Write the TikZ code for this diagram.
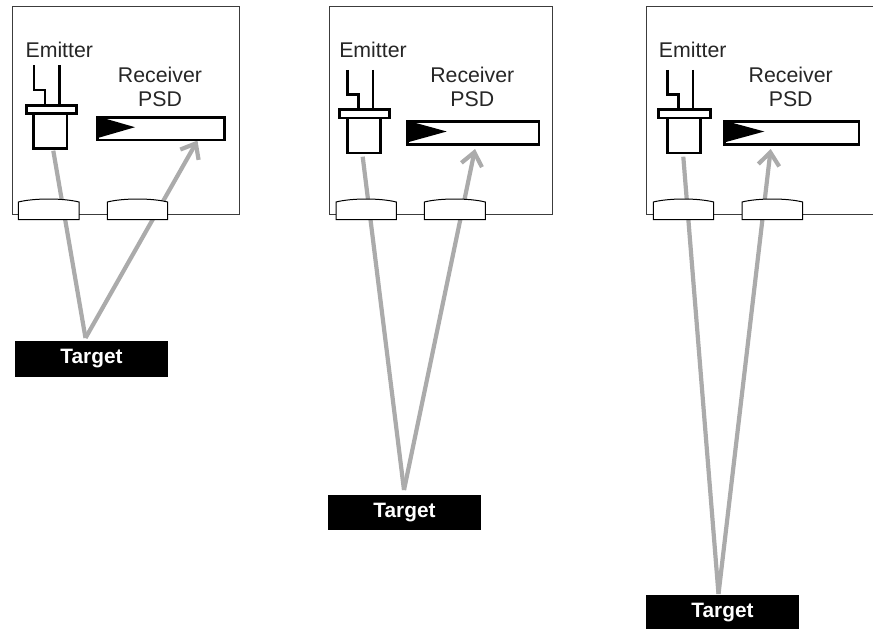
\documentclass[tikz,border=0pt]{standalone}
\usepackage{fontspec}
\setmainfont{Liberation Sans}
\usetikzlibrary{arrows.meta}
\definecolor{raygray}{HTML}{ABABAB}
\definecolor{framegray}{HTML}{3C3C3C}
\tikzset{
  frameline/.style={draw=framegray,line width=1pt},
  lens/.style={draw=black,fill=white,line width=1pt},
  part/.style={draw=black,fill=white,line width=2.8pt,line join=miter},
  lead/.style={draw=black,line width=2.8pt},
  ray/.style={draw=raygray,line width=4.2pt,line join=miter},
  rayarrow/.style={ray,-{Straight Barb[length=13pt,width=21pt,line width=4.2pt]}},
  lbl/.style={inner sep=0pt,anchor=base,font=\fontsize{21.3}{24}\selectfont,text=black!85},
  targetbox/.style={fill=black,text=white,inner sep=0pt,minimum width=153pt,minimum height=35.5pt,font=\fontsize{20.8}{24}\selectfont\bfseries},
}
% #1 name, #2 body left, #3 y offset, #4 flange left, #5 flange right
\newcommand{\emitterpart}[5]{
  \draw[lead] (#2+2.3,65.3+#3) -- (#2+2.3,90+#3) -| (#2+13.3,103.5+#3);
  \draw[lead] (#2+27.6,65.3+#3) -- (#2+27.6,103.5+#3);
  \node[part,inner sep=0pt,anchor=north west,minimum width=33.5pt,minimum height=34.9pt] (#1) at (#2+0.4,112+#3) {};
  \node[part,inner sep=0pt,anchor=north west,minimum width=#5pt-#4pt-1.4pt,minimum height=8.2pt] (#1f) at (#4+0.7,103.7+#3) {};
}
% #1 name, #2 left, #3 right, #4 top, #5 tip x
\newcommand{\receiverpart}[5]{
  \node[part,inner sep=0pt,anchor=north west,minimum width=#3pt-#2pt-1.4pt,minimum height=22.7pt] (#1) at (#2+0.7,#4+0.9) {};
  \fill[black] (#2+1,#4+1) -- (#5,#4+12.2) -- (#2+1,#4+23.5) -- cycle;
}
% #1 left, #2 right
\newcommand{\lenspart}[2]{
  \draw[lens] (#1,219.5) -- (#1,202) .. controls (#1+16,198) and (#2-16,198) .. (#2,202) -- (#2,219.5) -- cycle;
}
\begin{document}
\begin{tikzpicture}[x=1pt,y=-1pt]
\useasboundingbox (0,0) rectangle (873,629);
% frames
\draw[frameline] (12,6) rectangle (239.3,214.5);
\draw[frameline] (329.3,6) rectangle (552.7,214.5);
\draw[frameline] (873,6) -- (646,6) -- (646,214.5) -- (873,214.5);
% first panel
\coordinate (start1) at (53.3,150.7);
\coordinate (apex1) at (85.5,338);
\coordinate (tip1) at (197.5,140.5);
\draw[ray] (start1) -- (apex1);
\draw[rayarrow] (apex1) -- (tip1);
\lenspart{18.3}{79}
\lenspart{107.3}{167.7}
\emitterpart{em1}{31.7}{0}{24}{75.7}
\receiverpart{rc1}{95}{224}{115}{135}
\node[lbl] (emt1) at (59.3,57.3) {Emitter};
\node[lbl] (rct1) at (160,82.3) {Receiver};
\node[lbl] (psd1) at (160,106) {PSD};
\node[targetbox] (tg1) at (91.5,358.8) {\raisebox{-1pt}{Target}};
% second panel
\coordinate (start2) at (362.7,156.7);
\coordinate (apex2) at (404,490);
\coordinate (tip2) at (475,149);
\draw[ray] (start2) -- (apex2);
\draw[rayarrow] (apex2) -- (tip2);
\lenspart{336}{396.3}
\lenspart{424.3}{485.3}
\emitterpart{em2}{345.4}{4.6}{337.3}{389}
\receiverpart{rc2}{405}{538.3}{119.3}{446.7}
\node[lbl] (emt2) at (373,57.3) {Emitter};
\node[lbl] (rct2) at (472.3,82.3) {Receiver};
\node[lbl] (psd2) at (472.3,106) {PSD};
\node[targetbox] (tg2) at (404.5,512.7) {\raisebox{-1pt}{Target}};
% third panel
\coordinate (start3) at (683.3,156.7);
\coordinate (apex3) at (718.5,594);
\coordinate (tip3) at (770.7,149);
\draw[ray] (start3) -- (apex3);
\draw[rayarrow] (apex3) -- (tip3);
\lenspart{653.3}{713.7}
\lenspart{742}{802.7}
\emitterpart{em3}{665.4}{4.6}{656.7}{710}
\receiverpart{rc3}{722}{858.3}{119.3}{764.3}
\node[lbl] (emt3) at (692.7,57.3) {Emitter};
\node[lbl] (rct3) at (790.7,82.3) {Receiver};
\node[lbl] (psd3) at (790.7,106) {PSD};
\node[targetbox] (tg3) at (722.5,612.7) {\raisebox{-1pt}{Target}};
\end{tikzpicture}
\end{document}
